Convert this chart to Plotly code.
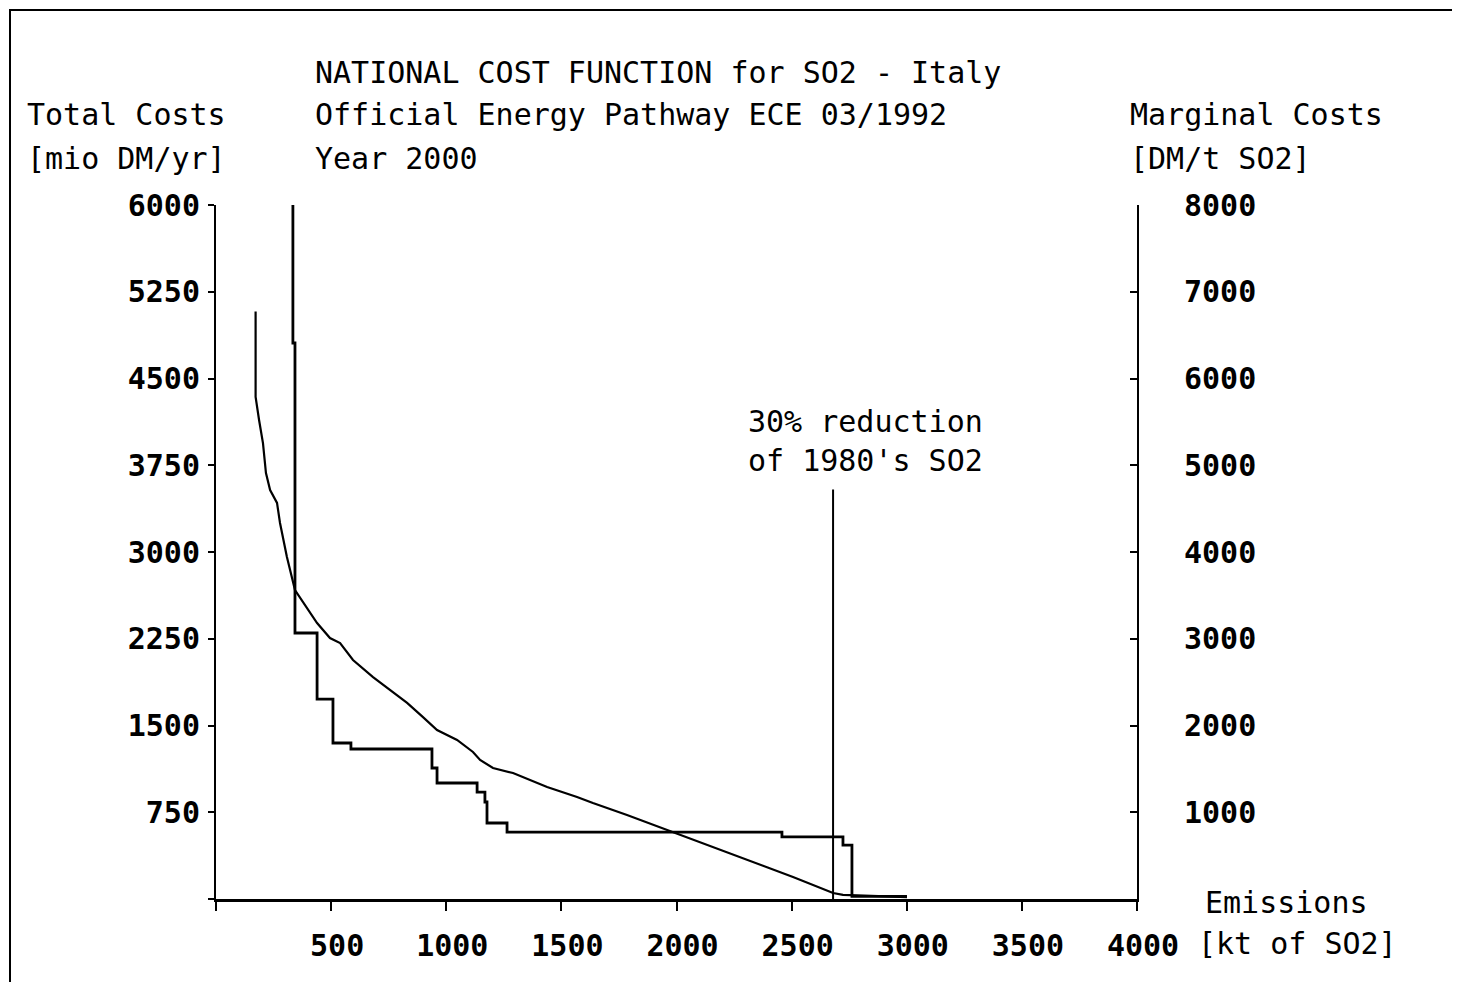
import plotly.graph_objects as go

# ---- data ----
# Total costs curve [mio DM/yr] vs emissions [kt SO2]
tc_emis = [172, 172, 187, 204, 217, 235, 265, 278, 308, 343, 439, 495, 539, 595, 682,
           756, 830, 899, 960, 1047, 1116, 1147, 1203, 1290, 1438, 1568, 1637, 1785,
           1959, 2072, 2219, 2363, 2506, 2680, 2723, 3001]
tc_cost = [5080, 4340, 4141, 3942, 3683, 3536, 3424, 3251, 2957, 2671, 2386, 2256, 2213,
           2066, 1919, 1807, 1695, 1573, 1461, 1375, 1271, 1202, 1133, 1089, 968, 882,
           830, 726, 597, 510, 398, 294, 190, 52, 35, 17]

# Marginal costs step function [DM/t SO2] (level starts at each emission break point)
mc_emis = [334, 334, 343, 439, 508, 586, 938, 960, 1134, 1168, 1177, 1264, 2458, 2723, 2762, 3001]
mc_cost = [8000, 6409, 3066, 2305, 1798, 1729, 1510, 1337, 1233, 1118, 876, 772, 715, 622, 30, 30]

x_ticks = [0, 500, 1000, 1500, 2000, 2500, 3000, 3500, 4000]
y_ticks = [0, 750, 1500, 2250, 3000, 3750, 4500, 5250, 6000]
y2_ticks = [0, 1000, 2000, 3000, 4000, 5000, 6000, 7000, 8000]

reduction_target = 2680     # kt SO2 (30% reduction of 1980's SO2)
reduction_line_top = 3540   # mio DM/yr (top of marker line)

FONT = "DejaVu Sans Mono"

fig = go.Figure()
fig.add_trace(go.Scatter(x=tc_emis, y=tc_cost, mode="lines",
                         line=dict(color="black", width=2.2), yaxis="y", showlegend=False))
fig.add_trace(go.Scatter(x=mc_emis, y=mc_cost, mode="lines",
                         line=dict(color="black", width=2.8, shape="hv"), yaxis="y2",
                         showlegend=False))

fig.add_shape(type="line", xref="x", yref="y", x0=reduction_target, x1=reduction_target,
              y0=0, y1=reduction_line_top, line=dict(color="black", width=2))

def lab(v):
    return "" if v == 0 else str(v)

fig.update_layout(
    width=1460, height=982,
    margin=dict(l=208, r=331, t=197, b=91),
    paper_bgcolor="white", plot_bgcolor="white",
    font=dict(family=FONT, size=30, color="black"),
    xaxis=dict(range=[0, 4000], tickvals=x_ticks, ticktext=[lab(v) for v in x_ticks],
               showgrid=False, zeroline=False, showline=True, linecolor="black", linewidth=3,
               ticks="outside", ticklen=9, tickwidth=2, tickcolor="black",
               ticklabelstandoff=9, ticklabelshift=6,
               tickfont=dict(family=FONT, size=30, color="black", weight="bold")),
    yaxis=dict(range=[0, 6000], tickvals=y_ticks, ticktext=[lab(v) for v in y_ticks],
               showgrid=False, zeroline=False, showline=True, linecolor="black", linewidth=2,
               ticks="outside", ticklen=6, tickwidth=2, tickcolor="black",
               ticklabelstandoff=2,
               tickfont=dict(family=FONT, size=30, color="black", weight="bold")),
    yaxis2=dict(range=[0, 8000], tickvals=y2_ticks, ticktext=[lab(v) for v in y2_ticks],
                overlaying="y", side="right",
                showgrid=False, zeroline=False, showline=True, linecolor="black", linewidth=2,
                ticks="inside", ticklen=7, tickwidth=2, tickcolor="black",
                ticklabelstandoff=39,
                tickfont=dict(family=FONT, size=30, color="black", weight="bold")),
)

# screen pixel -> paper coordinates (plot area spans x 216..1137, y 205..899 on screen)
def px2paper(px, py):
    return (px - 216) / 921.0, (899 - py) / 694.0

texts = [
    ("NATIONAL COST FUNCTION for SO2 - Italy", 313, 72),
    ("Official Energy Pathway ECE 03/1992", 313, 115),
    ("Year 2000", 313, 158),
    ("Total Costs", 25, 115),
    ("[mio DM/yr]", 25, 158),
    ("Marginal Costs", 1128, 115),
    ("[DM/t SO2]", 1128, 158),
    ("Emissions", 1203, 902),
    ("[kt of SO2]", 1196, 943),
]
for t, px, py in texts:
    xp, yp = px2paper(px, py)
    fig.add_annotation(text=t, xref="paper", yref="paper", x=xp, y=yp,
                       xanchor="left", yanchor="middle", showarrow=False,
                       font=dict(family=FONT, size=30, color="black"))

fig.add_annotation(text="30% reduction<br>of 1980's SO2", xref="x", yref="y",
                   x=2300, y=3960, xanchor="left", yanchor="middle", align="left",
                   showarrow=False, font=dict(family=FONT, size=30, color="black"))

# outer frame
x0p, y0p = px2paper(10, 10)
x1p, y1p = px2paper(1455, 995)
fig.add_shape(type="rect", xref="paper", yref="paper", x0=x0p, y0=y1p, x1=x1p, y1=y0p,
              line=dict(color="black", width=2), fillcolor="rgba(0,0,0,0)", layer="below")

fig.write_html("out.html")
